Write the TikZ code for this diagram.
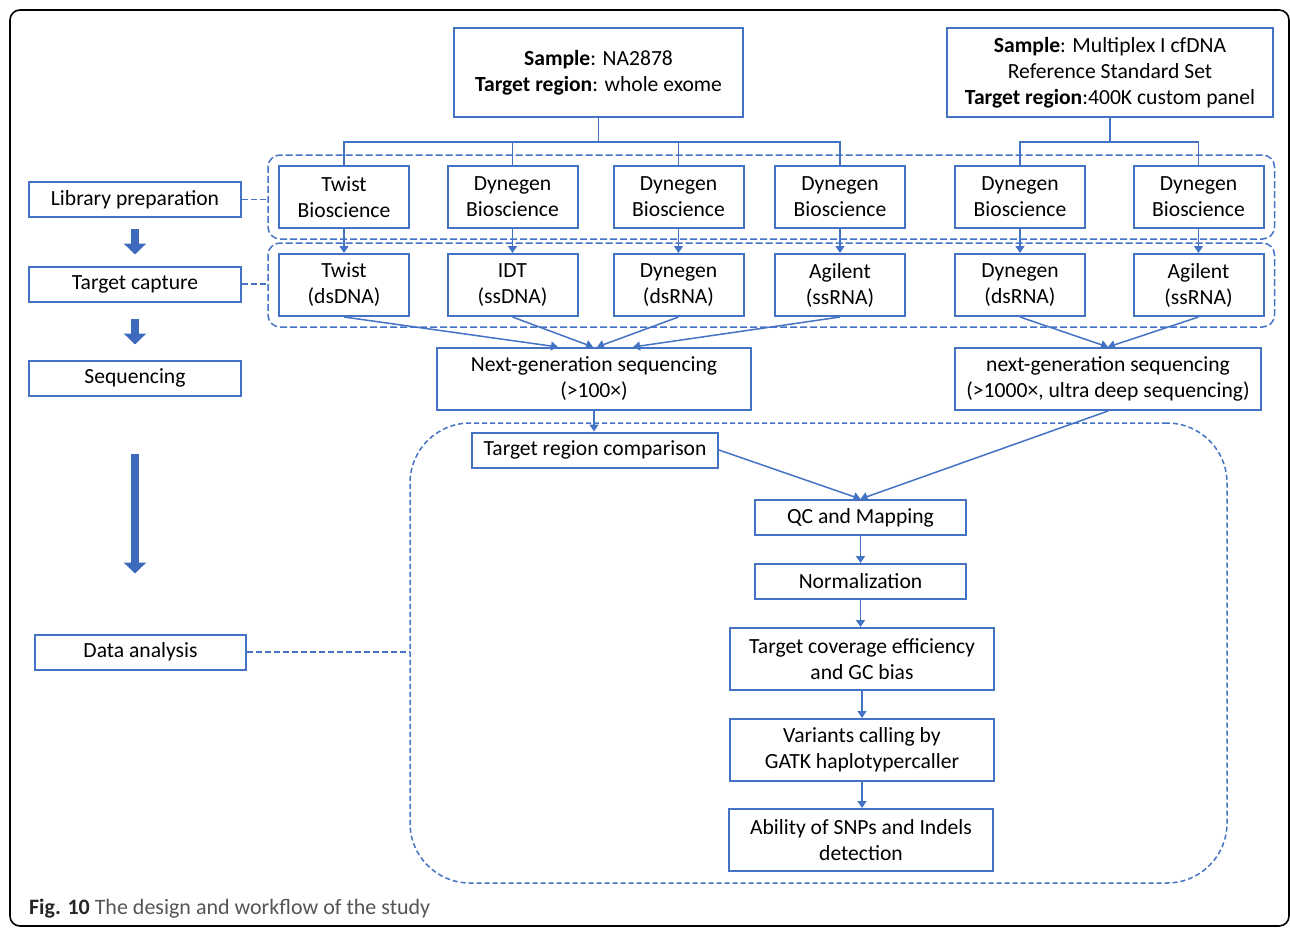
\documentclass[tikz,border=0pt]{standalone}
\usepackage{fontspec}
\setmainfont{Carlito}
\usetikzlibrary{positioning, arrows.meta, fit}

\definecolor{boxblue}{RGB}{68,114,196}
\definecolor{blockblue}{RGB}{62,106,190}
\definecolor{capgray}{RGB}{85,85,85}

\tikzset{
    box/.style={draw=boxblue, line width=1pt, fill=white, align=center, inner sep=1pt},
    stagebox/.style={box, minimum width=106pt, minimum height=17.5pt},
    kitbox/.style={box, minimum width=65pt, minimum height=31pt},
    stepbox/.style={box, minimum height=17.5pt},
    group/.style={draw=boxblue, line width=0.75pt, dash pattern=on 3.5pt off 1.5pt, rounded corners=6pt, inner sep=5pt},
    link/.style={draw=boxblue, line width=0.75pt, -{Triangle[width=4.5pt,length=3.5pt]}},
    tree/.style={draw=boxblue, line width=0.75pt},
    dashlink/.style={draw=boxblue, line width=0.75pt, dash pattern=on 3pt off 1.5pt},
    bigarrow/.style={draw=blockblue, line width=4pt, -{Triangle[width=11pt,length=5.5pt]}}
}

\begin{document}
\begin{tikzpicture}[x=0.5pt, y=-0.5pt, font=\fontsize{10.8}{13}\selectfont]
    \useasboundingbox (0,0) rectangle (1290,927);
    \draw [line width=0.8pt, rounded corners=5pt] (10,10) rectangle (1289,926);

    % samples
    \node (s1) [box, minimum width=144.5pt, minimum height=44.5pt] at (598.5,72.5) {\textbf{Sample}: NA2878\\\textbf{Target region}: whole exome};
    \node (s2) [box, minimum width=163pt, minimum height=44.5pt] at (1110,72.5) {\textbf{Sample}: Multiplex I cfDNA\\Reference Standard Set\\\textbf{Target region}:400K custom panel};

    % library preparation kits
    \node (lib1) [kitbox] at (344,197) {Twist\\Bioscience};
    \node (lib2) [kitbox] at (512.5,197) {Dynegen\\Bioscience};
    \node (lib3) [kitbox] at (678.5,197) {Dynegen\\Bioscience};
    \node (lib4) [kitbox] at (840,197) {Dynegen\\Bioscience};
    \node (lib5) [kitbox] at (1020,197) {Dynegen\\Bioscience};
    \node (lib6) [kitbox] at (1198.5,197) {Dynegen\\Bioscience};

    % capture kits
    \node (cap1) [kitbox] at (344,285) {Twist\\(dsDNA)};
    \node (cap2) [kitbox] at (512.5,285) {IDT\\(ssDNA)};
    \node (cap3) [kitbox] at (678.5,285) {Dynegen\\(dsRNA)};
    \node (cap4) [kitbox] at (840,285) {Agilent\\(ssRNA)};
    \node (cap5) [kitbox] at (1020,285) {Dynegen\\(dsRNA)};
    \node (cap6) [kitbox] at (1198.5,285) {Agilent\\(ssRNA)};

    \node (libgroup) [group, fit=(lib1)(lib6)] {};
    \node (capgroup) [group, fit=(cap1)(cap6)] {};

    % sequencing
    \node (ngs1) [box, minimum width=157pt, minimum height=31pt] at (594,379) {Next-generation sequencing\\(>100×)};
    \node (ngs2) [box, minimum width=153pt, minimum height=31pt] at (1108,379) {next-generation sequencing\\(>1000×, ultra deep sequencing)};

    % stages on the left
    \node (lp) [stagebox] at (135,199.5) {Library preparation};
    \node (tc) [stagebox] at (135,284) {Target capture};
    \node (sq) [stagebox] at (135,378) {Sequencing};
    \node (da) [stagebox, minimum width=105.5pt] at (140.5,652) {Data analysis};

    % analysis
    \node (daframe) [group, rounded corners=30pt, dash pattern=on 2.5pt off 1.5pt, inner sep=0pt, minimum width=408.5pt, minimum height=230pt] at (818.5,653) {};
    \node (trc) [stepbox, minimum width=123pt] at (595,450) {Target region comparison};
    \node (qc) [stepbox, minimum width=105.5pt] at (860.5,517.5) {QC and Mapping};
    \node (nm) [stepbox, minimum width=105.5pt] at (860.5,581.5) {Normalization};
    \node (cov) [box, minimum width=132pt, minimum height=31pt] at (862,659) {Target coverage efficiency\\and GC bias};
    \node (var) [box, minimum width=132pt, minimum height=31pt] at (862,750) {Variants calling by\\GATK haplotypercaller};
    \node (snp) [box, minimum width=132pt, minimum height=31pt] at (861,840) {Ability of SNPs and Indels\\detection};

    \node (caption) [anchor=west, text=capgray, font=\fontsize{11}{13}\selectfont] at (22,909) {\textcolor{black!85}{\textbf{Fig. 10}} The design and workflow of the study};

    % tree from samples
    \coordinate (t1) at (598.5,142);
    \coordinate (t2) at (1110,142);
    \draw [tree] (s1.south) -- (t1);
    \draw [tree] (lib1.north) |- (t1) -| (lib4.north);
    \draw [tree] (lib2.north) -- (lib2.north |- t1);
    \draw [tree] (lib3.north) -- (lib3.north |- t1);
    \draw [tree] (s2.south) -- (t2);
    \draw [tree] (lib5.north) |- (t2) -| (lib6.north);

    \draw [link] (lib1) -- (cap1);
    \draw [link] (lib2) -- (cap2);
    \draw [link] (lib3) -- (cap3);
    \draw [link] (lib4) -- (cap4);
    \draw [link] (lib5) -- (cap5);
    \draw [link] (lib6) -- (cap6);

    \draw [link] (cap1.south) -- ([xshift=-18pt]ngs1.north);
    \draw [link] (cap2.south) -- ([xshift=-0.5pt]ngs1.north);
    \draw [link] (cap3.south) -- ([xshift=1.5pt]ngs1.north);
    \draw [link] (cap4.south) -- ([xshift=19.5pt]ngs1.north);
    \draw [link] (cap5.south) -- (ngs2.north);
    \draw [link] (cap6.south) -- (ngs2.north);

    \draw [link] (ngs1.south) -- (ngs1.south |- trc.north);
    \draw [link] (trc.east) -- (qc.north);
    \draw [link] (ngs2.south) -- (qc.north);
    \draw [link] (qc) -- (nm);
    \draw [link] (nm.south) -- (nm.south |- cov.north);
    \draw [link] (cov.south) -- (cov.south |- var.north);
    \draw [link] (var.south) -- (var.south |- snp.north);

    % stage arrows and dashed ties
    \draw [bigarrow, shorten <=5.5pt, shorten >=5.5pt] (lp) -- (tc);
    \draw [bigarrow, shorten <=8pt, shorten >=7.5pt] (tc) -- (sq);
    \draw [bigarrow, shorten <=28.5pt, shorten >=30pt] (sq.south) -- (sq.south |- da.north);

    \draw [dashlink] (lp.east) -- (lp.east -| libgroup.west);
    \draw [dashlink] (tc.east) -- (tc.east -| capgroup.west);
    \draw [dashlink] (da.east) -- (da.east -| daframe.west);
\end{tikzpicture}
\end{document}
